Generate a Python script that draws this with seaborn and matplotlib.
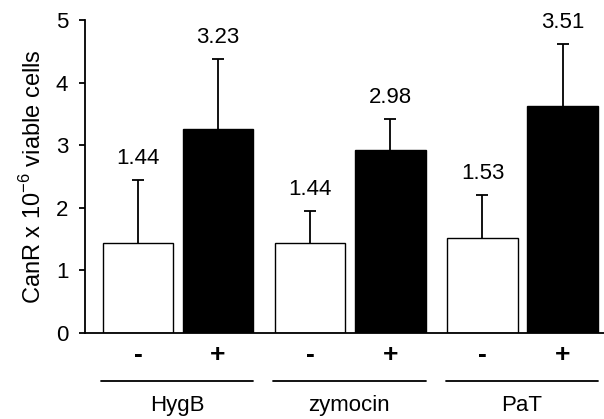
import numpy as np
import pandas as pd
import matplotlib
matplotlib.use("Agg")
import matplotlib.pyplot as plt
import matplotlib.transforms as mtransforms
import seaborn as sns

# -------------------- Data --------------------
groups = ["HygB", "zymocin", "PaT"]
treatments = ["-", "+"]
means = [1.44, 3.26, 1.44, 2.92, 1.51, 3.62]      # bar heights
errors = [1.01, 1.12, 0.51, 0.50, 0.69, 1.00]     # upper error only
value_labels = ["1.44", "3.23", "1.44", "2.98", "1.53", "3.51"]

df = pd.DataFrame({
    "group": np.repeat(groups, 2),
    "treatment": treatments * 3,
    "value": means,
})

# -------------------- Style --------------------
sns.set_style("ticks", {"axes.edgecolor": "black", "text.color": "black",
                        "xtick.color": "black", "ytick.color": "black",
                        "axes.labelcolor": "black"})
plt.rcParams["font.family"] = ["Liberation Sans", "DejaVu Sans"]
plt.rcParams["mathtext.fontset"] = "custom"
plt.rcParams["mathtext.rm"] = "Liberation Sans"
FS = 16

fig = plt.figure(figsize=(6.04, 4.19), dpi=100)
ax = fig.add_axes([85 / 604, 1 - 333 / 419, 519 / 604, 313 / 419])

sns.barplot(data=df, x="group", y="value", hue="treatment", hue_order=treatments,
            palette={"-": "white", "+": "black"}, edgecolor="black", linewidth=1.0,
            width=0.93, gap=0.12, errorbar=None, legend=False, ax=ax)

patches = sorted([p for p in ax.patches if p.get_height() > 0], key=lambda p: p.get_x())
bar_x = [p.get_x() + p.get_width() / 2 for p in patches]
bar_w = patches[0].get_width()

# one-sided error bars (hide the lower cap)
eb = ax.errorbar(bar_x, means, yerr=[np.zeros(len(errors)), errors], fmt="none",
                 ecolor="black", elinewidth=1.3, capsize=4.5, capthick=1.3, zorder=1)
eb[1][0].set_visible(False)

# value labels above error bars
for x, m, e, lab in zip(bar_x, means, errors, value_labels):
    ax.annotate(lab, (x, m + e), xytext=(0, 8), textcoords="offset points",
                ha="center", va="bottom", fontsize=FS)

# axes
ax.set_ylim(0, 5)
ax.set_xlim(-0.54, 2.473)
ax.set_yticks(range(6))
ax.tick_params(axis="y", labelsize=FS, length=4, width=1.3, pad=8)
ax.set_xticks(bar_x)
ax.set_xticklabels(treatments * 3, fontsize=19, fontweight="bold")
ax.tick_params(axis="x", length=0, pad=7)
ax.set_xlabel("")
ax.set_ylabel(r"CanR x 10$^{\mathregular{-6}}$ viable cells", fontsize=17, labelpad=7)
sns.despine(ax=ax)
for s in ["left", "bottom"]:
    ax.spines[s].set_linewidth(1.3)

# group lines and names under the tick labels
trans = mtransforms.blended_transform_factory(ax.transData, ax.transAxes)
for i, g in enumerate(groups):
    x0 = bar_x[2 * i] - bar_w / 2 - 0.01
    x1 = bar_x[2 * i + 1] + bar_w / 2
    ax.plot([x0, x1], [-0.153, -0.153], color="black", lw=1.3, transform=trans, clip_on=False)
    ax.text((x0 + x1) / 2, -0.233, g, ha="center", va="center", fontsize=FS, transform=trans)

fig.savefig("out.png", dpi=100)
